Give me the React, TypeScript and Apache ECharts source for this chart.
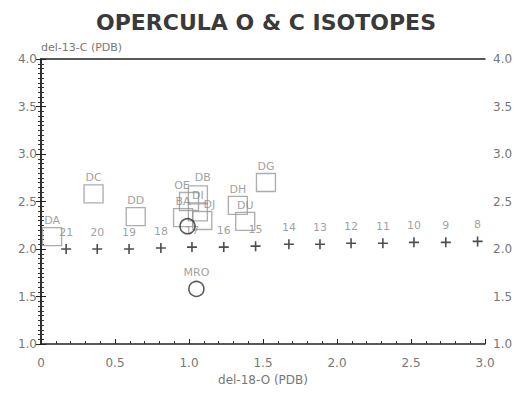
import React, { useEffect, useRef } from "react";
import * as echarts from "echarts";

const squareNames = ["DA", "DC", "DD", "OE", "DB", "DI", "BA", "DJ", "DH", "DU", "DG"];
const squareX = [0.075, 0.355, 0.64, 1.0, 1.06, 1.06, 0.96, 1.09, 1.33, 1.38, 1.52];
const squareY = [2.13, 2.58, 2.34, 2.5, 2.57, 2.39, 2.33, 2.3, 2.46, 2.29, 2.7];

const crossLabels = ["21", "20", "19", "18", "17", "16", "15", "14", "13", "12", "11", "10", "9", "8"];
const crossX = [0.17, 0.38, 0.595, 0.81, 1.02, 1.235, 1.45, 1.675, 1.885, 2.095, 2.31, 2.52, 2.735, 2.95];
const crossY = [2.0, 2.0, 2.0, 2.01, 2.02, 2.02, 2.03, 2.05, 2.05, 2.06, 2.06, 2.07, 2.07, 2.08];

const circleNames = ["", "MRO"];
const circleX = [0.99, 1.05];
const circleY = [2.24, 1.58];

const xTicks = ["0", "0.5", "1.0", "1.5", "2.0", "2.5", "3.0"];

const FONT = "'DejaVu Sans', Verdana, sans-serif";

const squareLabelOffsets: Record<string, number[]> = {
  OE: [-7, 0],
  DB: [5, -1],
  DJ: [7, 0],
};

export default function App() {
  const ref = useRef<HTMLDivElement>(null);
  useEffect(() => {
    if (!ref.current) return;
    const chart = echarts.init(ref.current, null, { renderer: "svg" });
    const axisLine = { show: true, lineStyle: { color: "#222", width: 1.5 } };
    const yCommon = {
      type: "value",
      min: 1,
      max: 4,
      interval: 0.5,
      axisLine,
      axisTick: { show: true, inside: true, length: 5, lineStyle: { color: "#222" } },
      minorTick: { show: true, splitNumber: 10, length: 3, lineStyle: { color: "#333" } },
      splitLine: { show: false },
      axisLabel: {
        color: "#777",
        fontSize: 12,
        fontFamily: FONT,
        formatter: (v: number) => v.toFixed(1),
      },
    };
    chart.setOption({
      animation: false,
      backgroundColor: "#fff",
      title: {
        text: "OPERCULA O & C ISOTOPES",
        left: 261,
        textAlign: "center",
        top: 6,
        textStyle: { fontSize: 22, fontWeight: "bold", color: "#3a3a3a", fontFamily: FONT },
      },
      grid: { left: 41, right: 35, top: 59, bottom: 49 },
      xAxis: [
        {
          type: "value",
          min: 0,
          max: 3,
          interval: 0.5,
          position: "bottom",
          name: "del-18-O (PDB)",
          nameLocation: "middle",
          nameGap: 28,
          nameTextStyle: { color: "#777", fontSize: 12, fontFamily: FONT },
          axisLine,
          axisTick: { show: true, inside: true, length: 5, lineStyle: { color: "#222" } },
          minorTick: { show: true, splitNumber: 5, length: 3, lineStyle: { color: "#333" } },
          splitLine: { show: false },
          axisLabel: {
            color: "#777",
            fontSize: 12,
            fontFamily: FONT,
            margin: 13,
            formatter: (v: number) => xTicks[Math.round(v / 0.5)],
          },
        },
        {
          type: "value",
          min: 0,
          max: 3,
          position: "top",
          axisLine,
          axisTick: { show: false },
          axisLabel: { show: false },
          splitLine: { show: false },
        },
      ],
      yAxis: [
        {
          ...yCommon,
          position: "left",
          name: "del-13-C (PDB)",
          nameLocation: "end",
          nameGap: 6,
          nameTextStyle: { color: "#777", fontSize: 11, fontFamily: FONT, align: "left" },
          axisLabel: { ...yCommon.axisLabel, margin: 4 },
        },
        {
          ...yCommon,
          position: "right",
          axisLabel: { ...yCommon.axisLabel, margin: 8 },
        },
      ],
      series: [
        {
          type: "scatter",
          data: crossX.map((x, i) => ({ value: [x, crossY[i]], name: crossLabels[i] })),
          symbol: "path://M4.2,0h1.6v10h-1.6z M0,4.2h10v1.6h-10z",
          symbolSize: 10,
          itemStyle: { color: "#222" },
          label: {
            show: true,
            position: "top",
            distance: 6,
            formatter: (p: any) => p.name,
            color: "#888",
            fontSize: 11,
            fontFamily: FONT,
          },
          z: 2,
        },
        {
          type: "scatter",
          data: squareX.map((x, i) => {
            const n = squareNames[i];
            const item: any = { value: [x, squareY[i]], name: n };
            if (squareLabelOffsets[n]) item.label = { offset: squareLabelOffsets[n] };
            return item;
          }),
          symbol: "rect",
          symbolSize: [19, 18],
          itemStyle: { color: "rgba(255,255,255,0)", borderColor: "#999", borderWidth: 1.3 },
          label: {
            show: true,
            position: "top",
            distance: 1,
            formatter: (p: any) => p.name,
            color: "#888",
            fontSize: 11,
            fontFamily: FONT,
          },
          z: 3,
        },
        {
          type: "scatter",
          data: circleX.map((x, i) => ({ value: [x, circleY[i]], name: circleNames[i] })),
          symbol: "circle",
          symbolSize: 15,
          itemStyle: { color: "rgba(255,255,255,0)", borderColor: "#333", borderWidth: 1.6 },
          label: {
            show: true,
            position: "top",
            distance: 3,
            formatter: (p: any) => p.name,
            color: "#888",
            fontSize: 11,
            fontFamily: FONT,
          },
          z: 4,
        },
      ],
    });
    return () => chart.dispose();
  }, []);
  return <div ref={ref} style={{ width: 520, height: 393, position: "absolute", left: 0, top: 0 }} />;
}
